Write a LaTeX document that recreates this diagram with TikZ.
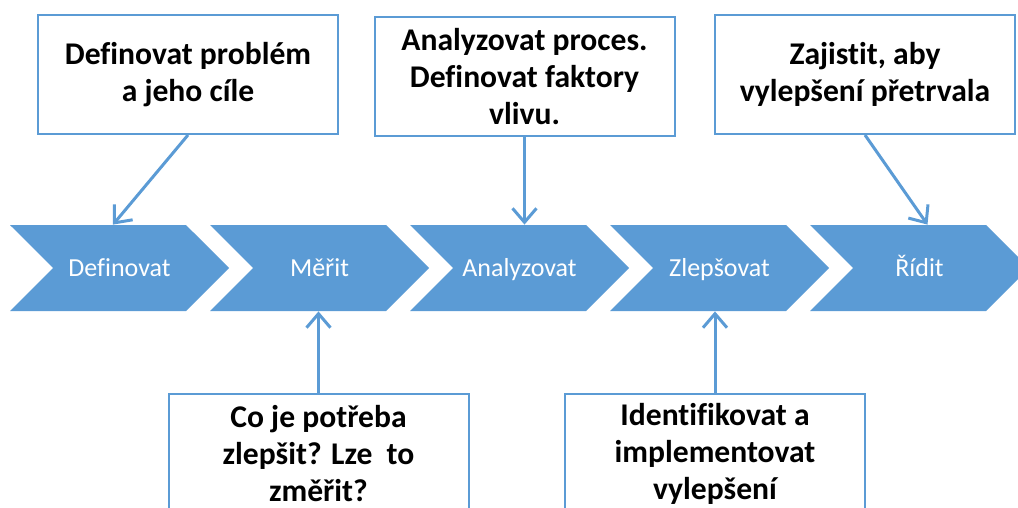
\documentclass[tikz,border=0pt]{standalone}
\usepackage{fontspec}
\setmainfont{Carlito}[Ligatures=NoCommon]
\usetikzlibrary{shapes.symbols,arrows.meta}
\definecolor{stepblue}{HTML}{5B9BD5}

\begin{document}
\begin{tikzpicture}[x=0.5pt,y=-0.5pt,
  chevron/.style={signal,signal to=east,signal from=west,fill=stepblue,draw=none,
    minimum width=109.5pt,minimum height=43pt,inner sep=0pt,text=white,
    text height=8.4pt,text depth=0pt,font=\fontsize{13}{15}\selectfont},
  note/.style={draw=stepblue,line width=1pt,fill=white,align=center,
    minimum width=150pt,minimum height=59.5pt,inner sep=0pt,
    font=\bfseries\fontsize{15.8}{18.5}\selectfont},
  pointer/.style={draw=stepblue,line width=1.5pt,-{Straight Barb[length=7pt,width=12pt]}}]
  \useasboundingbox (0,0) rectangle (1018,508);
  \clip (0,0) rectangle (1018,508);
  % process steps
  \node[chevron] (definovat) at (119.5,268) {Definovat};
  \node[chevron] (merit) at (319.5,268) {Měřit};
  \node[chevron] (analyzovat) at (519.5,268) {Analyzovat};
  \node[chevron] (zlepsovat) at (719.5,268) {Zlepšovat};
  \node[chevron] (ridit) at (919.5,268) {Řídit};
  % notes
  \node[note] (problem) at (188,74.5) {Definovat problém\\a jeho cíle};
  \node[note] (faktory) at (524.5,77) {Analyzovat proces.\\Definovat faktory\\vlivu.};
  \node[note] (udrzet) at (865,74.5) {Zajistit, aby\\vylepšení přetrvala};
  \node[note] (potreba) at (318.5,453.5) {Co je potřeba\\zlepšit? Lze\ \ to\\změřit?};
  \node[note] (implementace) at (715,453.5) {Identifikovat a\\implementovat\\vylepšení};
  \draw[pointer] (problem.south) -- ([xshift=-3.25pt]definovat.north);
  \draw[pointer] (faktory.south) -- (faktory.south |- analyzovat.north);
  \draw[pointer] (udrzet.south) -- ([xshift=4pt]ridit.north);
  \draw[pointer] (potreba.north) -- (potreba.north |- merit.south);
  \draw[pointer] (implementace.north) -- (implementace.north |- zlepsovat.south);
\end{tikzpicture}
\end{document}
